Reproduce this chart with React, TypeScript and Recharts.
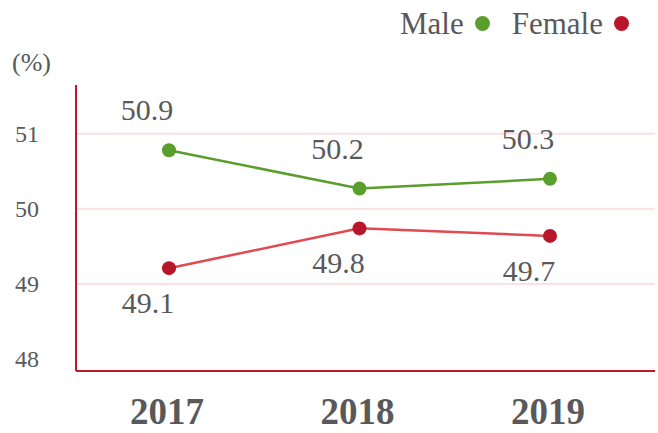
import { LineChart, Line, XAxis, YAxis, ReferenceLine, LabelList } from "recharts";

const YEARS = ["2017", "2018", "2019"];
const MALE = [50.78, 50.27, 50.4];
const FEMALE = [49.21, 49.74, 49.64];
const MALE_LABELS = ["50.9", "50.2", "50.3"];
const FEMALE_LABELS = ["49.1", "49.8", "49.7"];
const Y_TICKS = [48, 49, 50, 51];
const GRID_VALUES = [49, 50, 51];

const FONT = '"Liberation Serif", "Times New Roman", serif';
const TEXT = "#595959";
const AXIS = "#c0162c";
const GREEN = "#5a9e2c";
const RED_DOT = "#b7162b";
const RED_LINE = "#e04a50";

const data = YEARS.map((year, i) => ({
  year,
  male: MALE[i],
  female: FEMALE[i],
  maleLabel: MALE_LABELS[i],
  femaleLabel: FEMALE_LABELS[i],
}));

function YTick({ x, y, payload }: any) {
  return (
    <text x={x - 49} y={y} dy="0.33em" textAnchor="middle" fill={TEXT} fontFamily={FONT} fontSize={24}>
      {payload.value}
    </text>
  );
}

function XTick({ x, y, payload }: any) {
  return (
    <text x={x - 2} y={y + 53} textAnchor="middle" fill={TEXT} fontFamily={FONT} fontSize={37} fontWeight="bold">
      {payload.value}
    </text>
  );
}

const labelAt = (dx: number, dy: number) => (p: any) => (
  <text x={p.x + dx} y={p.y + dy} textAnchor="middle" fill={TEXT} fontFamily={FONT} fontSize={30}>
    {p.value}
  </text>
);

function LegendItem({ label, color }: { label: string; color: string }) {
  return (
    <span style={{ display: "inline-flex", alignItems: "center" }}>
      <span>{label}</span>
      <span
        style={{ display: "inline-block", width: 15, height: 15, borderRadius: "50%", background: color, marginLeft: 11 }}
      />
    </span>
  );
}

export default function App() {
  return (
    <div style={{ position: "absolute", left: 0, top: 0, width: 658, height: 433, background: "#fff" }}>
      <div
        style={{
          position: "absolute",
          left: 400,
          top: 8,
          fontFamily: FONT,
          fontSize: 31,
          lineHeight: "1",
          color: TEXT,
          display: "flex",
          gap: 22,
          whiteSpace: "nowrap",
        }}
      >
        <LegendItem label="Male" color={GREEN} />
        <LegendItem label="Female" color={RED_DOT} />
      </div>
      <div
        style={{ position: "absolute", left: 12, top: 50, fontFamily: FONT, fontSize: 26, lineHeight: "1", color: TEXT }}
      >
        (%)
      </div>
      <LineChart width={658} height={433} data={data} margin={{ top: 85, right: 3, bottom: 32, left: 16 }}>
        {GRID_VALUES.map((v) => (
          <ReferenceLine key={v} y={v} stroke="#fbe1e4" strokeWidth={2} />
        ))}
        <XAxis
          dataKey="year"
          height={30}
          padding={{ left: 93, right: 105 }}
          axisLine={{ stroke: AXIS, strokeWidth: 2 }}
          tickLine={false}
          tickSize={0}
          tickMargin={0}
          tick={<XTick />}
        />
        <YAxis
          width={60}
          domain={[47.84, 51.65]}
          ticks={Y_TICKS}
          allowDataOverflow
          axisLine={{ stroke: AXIS, strokeWidth: 2 }}
          tickLine={false}
          tickSize={0}
          tickMargin={0}
          tick={<YTick />}
        />
        <Line
          dataKey="male"
          stroke={GREEN}
          strokeWidth={2.5}
          dot={{ r: 7, fill: GREEN, stroke: "none" }}
          activeDot={false}
          isAnimationActive={false}
        >
          <LabelList dataKey="maleLabel" content={labelAt(-22, -30)} />
        </Line>
        <Line
          dataKey="female"
          stroke={RED_LINE}
          strokeWidth={2.5}
          dot={{ r: 7, fill: RED_DOT, stroke: "none" }}
          activeDot={false}
          isAnimationActive={false}
        >
          <LabelList dataKey="femaleLabel" content={labelAt(-21, 45)} />
        </Line>
      </LineChart>
    </div>
  );
}
